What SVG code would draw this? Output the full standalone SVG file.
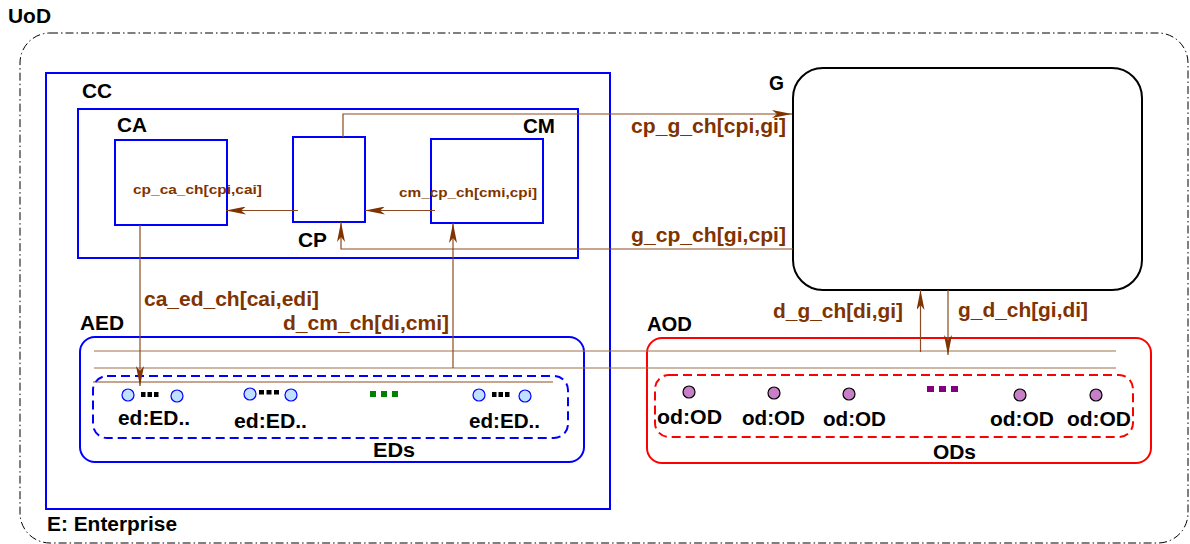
<svg xmlns="http://www.w3.org/2000/svg" width="1190" height="544" viewBox="0 0 1190 544">
<style>
text{font-family:"Liberation Sans",Arial,sans-serif;font-weight:bold}
.lbl{font-size:20px;fill:#000}
.ch{font-size:20px;fill:#7f3300}
.chs{font-size:13.5px;fill:#7f3300}
.blue{fill:none;stroke:#0000ff;stroke-width:2}
.red{fill:none;stroke:#ff0000;stroke-width:2}
.bdash{fill:none;stroke:#0000ff;stroke-width:2;stroke-dasharray:9 5}
.rdash{fill:none;stroke:#ff0000;stroke-width:2;stroke-dasharray:9 5}
.conn{fill:none;stroke:#8b4a22;stroke-width:1.2}
.bus{fill:none;stroke:#a0704f;stroke-width:1.2}
.ed{fill:#bfe0ff;stroke:#0000ff;stroke-width:1.2}
.od{fill:#c77fc7;stroke:#000;stroke-width:1.2}
</style>
<defs>
<marker id="ah" markerUnits="userSpaceOnUse" markerWidth="20" markerHeight="8" viewBox="0 0 20 8" refX="20" refY="4" orient="auto">
<path d="M0,0 L20,4 L0,8 L5,4 Z" fill="#7f3300"/>
</marker>
</defs>
<rect width="1190" height="544" fill="#fff"/>

<g id="uod">
<rect x="20" y="33" width="1168" height="510" rx="30" fill="none" stroke="#000" stroke-width="1" stroke-dasharray="8 3 1.5 3"/>
<text class="lbl" x="8" y="23" textLength="43" lengthAdjust="spacingAndGlyphs">UoD</text>
<text class="lbl" x="47" y="531" textLength="130" lengthAdjust="spacingAndGlyphs">E: Enterprise</text>
</g>

<g id="cc">
<rect class="blue" x="46" y="73" width="564" height="436"/>
<text class="lbl" x="82" y="98" textLength="30" lengthAdjust="spacingAndGlyphs">CC</text>
<rect class="blue" x="78" y="109" width="500" height="149"/>
</g>

<g id="ca">
<rect class="blue" x="115" y="140" width="112" height="85"/>
<text class="lbl" x="117" y="132" textLength="30" lengthAdjust="spacingAndGlyphs">CA</text>
</g>

<g id="cp">
<rect class="blue" x="293" y="137" width="72" height="85"/>
<text class="lbl" x="298" y="247" textLength="29" lengthAdjust="spacingAndGlyphs">CP</text>
</g>

<g id="cm">
<rect class="blue" x="431" y="139" width="112" height="84"/>
<text class="lbl" x="523" y="133" textLength="32" lengthAdjust="spacingAndGlyphs">CM</text>
</g>

<g id="g">
<rect x="793" y="68" width="349" height="222" rx="30" fill="none" stroke="#000" stroke-width="2"/>
<text class="lbl" x="769" y="90" textLength="15" lengthAdjust="spacingAndGlyphs">G</text>
</g>

<g id="aed">
<rect class="blue" x="80" y="337" width="504" height="125" rx="15"/>
<text class="lbl" x="80" y="330" textLength="44" lengthAdjust="spacingAndGlyphs">AED</text>
</g>

<g id="eds">
<rect class="bdash" x="93" y="376" width="475" height="62" rx="14"/>
<text class="lbl" x="373" y="457" textLength="42" lengthAdjust="spacingAndGlyphs">EDs</text>
<circle class="ed" cx="128" cy="395" r="6"/>
<circle class="ed" cx="177" cy="396" r="6"/>
<rect x="141" y="392" width="4.5" height="5" fill="#000"/>
<rect x="147.5" y="392" width="4.5" height="5" fill="#000"/>
<rect x="154" y="392" width="4.5" height="5" fill="#000"/>
<text class="lbl" x="118" y="425" textLength="72" lengthAdjust="spacingAndGlyphs">ed:ED..</text>
<circle class="ed" cx="250" cy="394" r="6"/>
<circle class="ed" cx="291" cy="395" r="6"/>
<rect x="259" y="390" width="5" height="4.5" fill="#000"/>
<rect x="266.5" y="390" width="5" height="4.5" fill="#000"/>
<rect x="274" y="390" width="5" height="4.5" fill="#000"/>
<text class="lbl" x="234" y="428" textLength="73" lengthAdjust="spacingAndGlyphs">ed:ED..</text>
<rect x="370" y="391" width="6" height="6" fill="#008000"/>
<rect x="381" y="391" width="6" height="6" fill="#008000"/>
<rect x="392" y="391" width="6" height="6" fill="#008000"/>
<circle class="ed" cx="479" cy="395" r="6"/>
<circle class="ed" cx="525" cy="396" r="6"/>
<rect x="492" y="392" width="4.5" height="5" fill="#000"/>
<rect x="498.5" y="392" width="4.5" height="5" fill="#000"/>
<rect x="505" y="392" width="4.5" height="5" fill="#000"/>
<text class="lbl" x="469" y="428" textLength="71" lengthAdjust="spacingAndGlyphs">ed:ED..</text>
</g>

<g id="aod">
<rect class="red" x="647" y="338" width="504" height="125" rx="15"/>
<text class="lbl" x="647" y="331" textLength="45" lengthAdjust="spacingAndGlyphs">AOD</text>
</g>

<g id="ods">
<rect class="rdash" x="655" y="375" width="478" height="62" rx="14"/>
<text class="lbl" x="933" y="459" textLength="43" lengthAdjust="spacingAndGlyphs">ODs</text>
<circle class="od" cx="689" cy="392" r="6"/>
<circle class="od" cx="774" cy="393" r="6"/>
<circle class="od" cx="849" cy="394" r="6"/>
<circle class="od" cx="1020" cy="395" r="6"/>
<circle class="od" cx="1096" cy="395" r="6"/>
<rect x="927" y="386" width="7" height="6" fill="#800080"/>
<rect x="939" y="386" width="7" height="6" fill="#800080"/>
<rect x="951" y="386" width="7" height="6" fill="#800080"/>
<text class="lbl" x="657" y="424" textLength="65" lengthAdjust="spacingAndGlyphs">od:OD</text>
<text class="lbl" x="742" y="425" textLength="63" lengthAdjust="spacingAndGlyphs">od:OD</text>
<text class="lbl" x="823" y="426" textLength="63" lengthAdjust="spacingAndGlyphs">od:OD</text>
<text class="lbl" x="990" y="426" textLength="64" lengthAdjust="spacingAndGlyphs">od:OD</text>
<text class="lbl" x="1067" y="426" textLength="64" lengthAdjust="spacingAndGlyphs">od:OD</text>
</g>

<g id="connectors">
<line class="bus" x1="94" y1="351" x2="1116" y2="351"/>
<line class="bus" x1="94" y1="368" x2="1116" y2="368"/>
<line class="conn" x1="93" y1="382" x2="553" y2="382" stroke="#7f3300"/>
<path class="conn" d="M298,210.5 H226" marker-end="url(#ah)"/>
<path class="conn" d="M435,210.5 H365" marker-end="url(#ah)"/>
<path class="conn" d="M343,137 V114 H792" marker-end="url(#ah)"/>
<path class="conn" d="M793,249 H341 V222" marker-end="url(#ah)"/>
<path class="conn" d="M140,225 V386" marker-end="url(#ah)"/>
<path class="conn" d="M453,368 V223" marker-end="url(#ah)"/>
<path class="conn" d="M920.5,352 V290" marker-end="url(#ah)"/>
<path class="conn" d="M948,290 V355" marker-end="url(#ah)"/>
<text class="chs" x="133" y="194" textLength="129" lengthAdjust="spacingAndGlyphs">cp_ca_ch[cpi,cai]</text>
<text class="chs" x="399" y="197" textLength="138" lengthAdjust="spacingAndGlyphs">cm_cp_ch[cmi,cpi]</text>
<text class="ch" x="631" y="133" textLength="155" lengthAdjust="spacingAndGlyphs">cp_g_ch[cpi,gi]</text>
<text class="ch" x="631" y="242" textLength="155" lengthAdjust="spacingAndGlyphs">g_cp_ch[gi,cpi]</text>
<text class="ch" x="144" y="306" textLength="175" lengthAdjust="spacingAndGlyphs">ca_ed_ch[cai,edi]</text>
<text class="ch" x="283" y="330" textLength="166" lengthAdjust="spacingAndGlyphs">d_cm_ch[di,cmi]</text>
<text class="ch" x="773" y="318" textLength="130" lengthAdjust="spacingAndGlyphs">d_g_ch[di,gi]</text>
<text class="ch" x="958" y="317" textLength="130" lengthAdjust="spacingAndGlyphs">g_d_ch[gi,di]</text>
</g>
</svg>
